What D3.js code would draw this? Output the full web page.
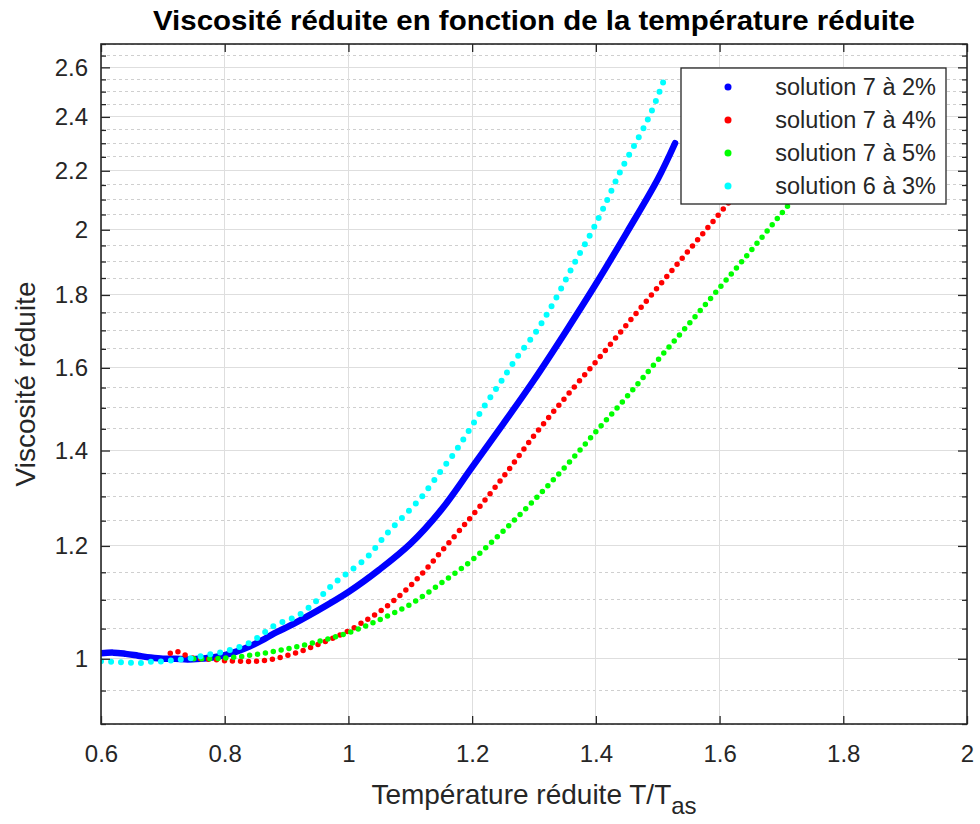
<!DOCTYPE html>
<meta charset="utf-8">
<style type="text/css">
html, body { margin: 0; background: #fff; }
svg { font-family: "Liberation Sans", Arial, Helvetica, sans-serif; }
.grid-major line { stroke: #dedede; stroke-width: 1; shape-rendering: crispEdges; }
.grid-minor line { stroke: #cfcfcf; stroke-width: 1; stroke-dasharray: 3,3; shape-rendering: crispEdges; }
.axis path { display: none; }
.axis line { stroke: #262626; stroke-width: 1.3; }
.axis text { fill: #262626; font-size: 24px; }
.series { fill: none; stroke-linecap: round; stroke-linejoin: round; }
</style>
<body></body>
<script src="https://d3js.org/d3.v7.min.js"></script>
<script>
var sol7_2 = [[0.600,1.009],[0.620,1.010],[0.640,1.008],[0.660,1.005],[0.680,1.002],[0.700,1.000],[0.720,1.000],
  [0.740,0.999],[0.760,1.000],[0.780,1.002],[0.800,1.006],[0.820,1.012],[0.840,1.020],[0.860,1.030],[0.880,1.042],
  [0.900,1.052],[0.950,1.081],[1.000,1.114],[1.050,1.155],[1.100,1.204],[1.150,1.272],[1.200,1.363],[1.250,1.461],
  [1.300,1.569],[1.350,1.693],[1.400,1.832],[1.450,1.991],[1.500,2.170],[1.528,2.300]];
var sol7_4 = [[0.712,1.009],[0.722,1.012],[0.732,1.008],[0.745,1.002],[0.760,1.000],[0.780,0.999],[0.800,0.997],
  [0.825,0.996],[0.850,0.996],[0.875,0.999],[0.900,1.005],[0.925,1.013],[0.950,1.023],[0.975,1.034],[1.000,1.046],
  [1.025,1.062],[1.050,1.079],[1.075,1.100],[1.100,1.125],[1.125,1.155],[1.150,1.189],[1.175,1.224],[1.200,1.260],
  [1.250,1.341],[1.300,1.434],[1.350,1.524],[1.400,1.616],[1.450,1.716],[1.500,1.822],[1.550,1.934],[1.600,2.053],
  [1.650,2.181],[1.700,2.315]];
var sol7_5 = [[0.750,1.000],[0.800,1.001],[0.850,1.007],[0.900,1.016],[0.950,1.028],[1.000,1.043],[1.050,1.065],
  [1.100,1.092],[1.150,1.130],[1.200,1.173],[1.250,1.229],[1.300,1.292],[1.350,1.363],[1.400,1.443],[1.450,1.527],
  [1.500,1.620],[1.550,1.717],[1.600,1.821],[1.650,1.932],[1.700,2.053],[1.750,2.180],[1.800,2.314]];
var sol6_3 = [[0.600,0.996],[0.620,0.995],[0.640,0.994],[0.660,0.993],[0.680,0.995],[0.700,0.996],[0.720,0.998],
  [0.740,1.000],[0.760,1.004],[0.780,1.008],[0.800,1.012],[0.820,1.018],[0.840,1.026],[0.860,1.040],[0.880,1.055],
  [0.900,1.064],[0.920,1.073],[0.950,1.100],[0.975,1.128],[1.000,1.150],[1.030,1.178],[1.062,1.224],[1.100,1.273],
  [1.121,1.303],[1.148,1.352],[1.170,1.392],[1.191,1.437],[1.218,1.500],[1.245,1.561],[1.272,1.626],[1.304,1.698],
  [1.331,1.776],[1.364,1.890],[1.391,1.985],[1.412,2.070],[1.439,2.195],[1.471,2.330],[1.487,2.405],[1.503,2.500],
  [1.513,2.567]];

var seriesNames = ["solution 7 à 2%", "solution 7 à 4%", "solution 7 à 5%", "solution 6 à 3%"];
var seriesColors = ["#0000ff", "#ff0000", "#00ff00", "#00ffff"];
var seriesData = [sol7_2, sol7_4, sol7_5, sol6_3];

var xTicks = [0.6, 0.8, 1, 1.2, 1.4, 1.6, 1.8, 2];
var yTicks = [1, 1.2, 1.4, 1.6, 1.8, 2, 2.2, 2.4, 2.6];
var yMinorTicks = d3.range(18, 55).map(function(k) { return k / 20; })
  .filter(function(v) { return yTicks.indexOf(+v.toFixed(2)) < 0; });

var margin = {top: 44, right: 13, bottom: 100, left: 101},
    width = 980 - margin.left - margin.right,
    height = 824 - margin.top - margin.bottom;

var x = d3.scaleLinear().domain([0.6, 2]).range([0, width]);
var y = d3.scaleLog().domain([0.9, 2.7]).range([height, 0]);

var svg = d3.select("body").append("svg")
    .attr("width", 980)
    .attr("height", 824);

var g = svg.append("g")
    .attr("transform", "translate(" + margin.left + "," + margin.top + ")");

g.append("rect").attr("width", width).attr("height", height).attr("fill", "#fff");

// grid
g.append("g").attr("class", "grid-minor")
  .selectAll("line").data(yMinorTicks).enter().append("line")
    .attr("x1", 0).attr("x2", width)
    .attr("y1", function(d) { return y(d); }).attr("y2", function(d) { return y(d); });

g.append("g").attr("class", "grid-major")
  .selectAll("line").data(yTicks).enter().append("line")
    .attr("x1", 0).attr("x2", width)
    .attr("y1", function(d) { return y(d); }).attr("y2", function(d) { return y(d); });

g.append("g").attr("class", "grid-major")
  .selectAll("line").data(xTicks).enter().append("line")
    .attr("y1", 0).attr("y2", height)
    .attr("x1", function(d) { return x(d); }).attr("x2", function(d) { return x(d); });

// data
g.append("clipPath").attr("id", "clip")
  .append("rect").attr("width", width).attr("height", height);

var line = d3.line()
    .x(function(d) { return x(d[0]); })
    .y(function(d) { return y(d[1]); })
    .curve(d3.curveCatmullRom.alpha(0.5));

var dash = ["none", "0,8", "0,8", "0,10"];
var widths = [6.5, 5.5, 5.5, 6];

g.append("g").attr("clip-path", "url(#clip)")
  .selectAll("path").data(seriesData).enter().append("path")
    .attr("class", "series")
    .attr("d", line)
    .attr("stroke", function(d, i) { return seriesColors[i]; })
    .attr("stroke-width", function(d, i) { return widths[i]; })
    .attr("stroke-dasharray", function(d, i) { return dash[i]; });

// axes, ticks pointing inward
var fmt = function(d) { return d3.format("")(+d.toFixed(1)); };

g.append("g").attr("class", "axis")
    .attr("transform", "translate(0," + height + ")")
    .call(d3.axisBottom(x).tickValues(xTicks).tickSize(-8).tickPadding(21).tickFormat(fmt));
g.append("g").attr("class", "axis")
    .call(d3.axisTop(x).tickValues(xTicks).tickSize(-8).tickFormat(""));
g.append("g").attr("class", "axis")
    .call(d3.axisLeft(y).tickValues(yTicks).tickSize(-9).tickPadding(13).tickFormat(fmt));
g.append("g").attr("class", "axis")
    .call(d3.axisLeft(y).tickValues(yMinorTicks).tickSize(-5).tickFormat(""));
g.append("g").attr("class", "axis")
    .attr("transform", "translate(" + width + ",0)")
    .call(d3.axisRight(y).tickValues(yTicks).tickSize(-9).tickFormat(""));
g.append("g").attr("class", "axis")
    .attr("transform", "translate(" + width + ",0)")
    .call(d3.axisRight(y).tickValues(yMinorTicks).tickSize(-5).tickFormat(""));

g.append("rect")
    .attr("width", width).attr("height", height)
    .attr("fill", "none").attr("stroke", "#262626").attr("stroke-width", 1.6);

// legend
var leg = g.append("g").attr("transform", "translate(580,24)");
leg.append("rect").attr("width", 265).attr("height", 136)
    .attr("fill", "#fff").attr("stroke", "#262626").attr("stroke-width", 1.3);
var item = leg.selectAll("g.item").data(seriesNames).enter().append("g")
    .attr("transform", function(d, i) { return "translate(0," + (19 + i * 33) + ")"; });
item.append("circle").attr("cx", 47).attr("r", 3.5)
    .attr("fill", function(d, i) { return seriesColors[i]; });
item.append("text").attr("x", 255).attr("y", 8).attr("text-anchor", "end")
    .attr("font-size", "23.5px").attr("fill", "#262626").text(function(d) { return d; });

// labels
svg.append("text")
    .attr("x", margin.left + width / 2).attr("y", 30)
    .attr("text-anchor", "middle").attr("font-weight", "bold").attr("font-size", "27px")
    .attr("fill", "#000").attr("textLength", 762).attr("lengthAdjust", "spacingAndGlyphs")
    .text("Viscosité réduite en fonction de la température réduite");

var xl = svg.append("text")
    .attr("x", margin.left + width / 2).attr("y", 804)
    .attr("text-anchor", "middle").attr("font-size", "28px").attr("fill", "#262626");
xl.append("tspan").text("Température réduite T/T");
xl.append("tspan").attr("dy", 10).attr("font-size", "24px").text("as");

svg.append("text")
    .attr("transform", "translate(35," + (margin.top + height / 2) + ") rotate(-90)")
    .attr("text-anchor", "middle").attr("font-size", "28px").attr("fill", "#262626")
    .text("Viscosité réduite");
</script>
